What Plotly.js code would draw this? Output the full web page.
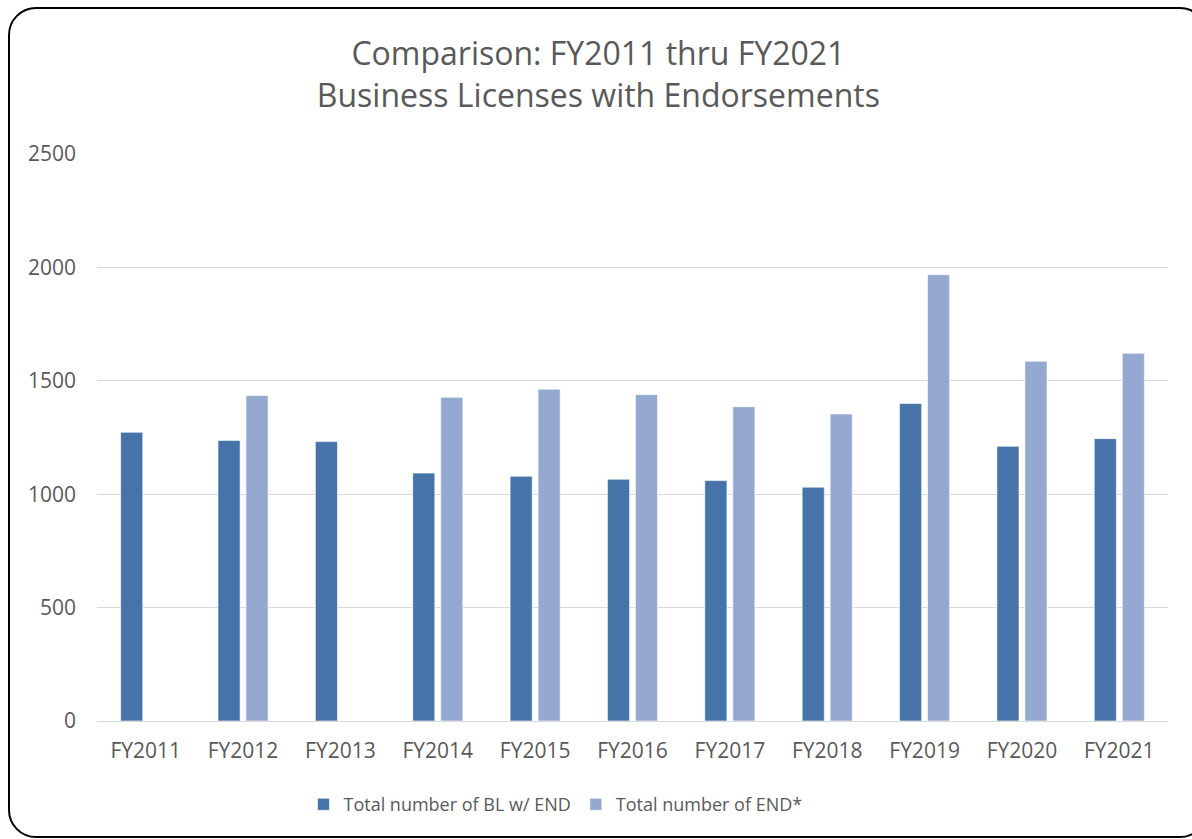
<!DOCTYPE html>
<html>
<head>
<meta charset="utf-8">
<script src="https://cdn.plot.ly/plotly-3.0.1.min.js"></script>
<style>
html,body{margin:0;padding:0;background:#fff;width:1192px;height:839px;overflow:hidden;}
#frame{position:absolute;left:8px;top:7px;width:1200px;height:831px;border:2px solid #000;border-radius:28px;box-sizing:border-box;}
#chart{position:absolute;left:0;top:0;width:1192px;height:839px;}
</style>
</head>
<body>
<div id="frame"></div>
<div id="chart"></div>
<script>
var categories = ["FY2011","FY2012","FY2013","FY2014","FY2015","FY2016","FY2017","FY2018","FY2019","FY2020","FY2021"];
var blWithEnd = [1273,1237,1232,1093,1079,1066,1060,1031,1400,1211,1245];
var totalEnd = [null,1435,null,1427,1463,1439,1386,1354,1968,1586,1621];
var yTicks = [0,500,1000,1500,2000,2500];

var fontFam = "'Open Sans', 'Noto Sans', 'Liberation Sans', sans-serif";
var grey = "#595959";

var data = [
  {type:"bar", name:"Total number of BL w/ END", x:categories, y:blWithEnd,
   marker:{color:"#4674a9", line:{color:"#ffffff", width:0.6}}},
  {type:"bar", name:"Total number of END*", x:categories, y:totalEnd,
   marker:{color:"#95a9d0", line:{color:"#ffffff", width:0.6}}}
];

var layout = {
  width:1192, height:839,
  paper_bgcolor:"rgba(0,0,0,0)", plot_bgcolor:"rgba(0,0,0,0)",
  margin:{l:97, r:24, t:154, b:118},
  barmode:"group", bargap:0.425, bargroupgap:0.21,
  font:{family:fontFam, color:grey},
  title:{text:"Comparison: FY2011 thru FY2021<br>Business Licenses with Endorsements",
         font:{size:32, color:grey, family:fontFam}, x:0.502, xref:"container", xanchor:"center",
         y:0.922, yref:"container", yanchor:"middle"},
  xaxis:{tickfont:{size:21, color:grey}, showgrid:false, zeroline:false,
         showline:true, linecolor:"#d9d9d9", linewidth:1, ticks:"", ticklabelstandoff:11},
  yaxis:{range:[0,2500], tickvals:yTicks, ticktext:yTicks.map(String),
         tickfont:{size:21, color:grey}, showgrid:true, gridcolor:"#d9d9d9", gridwidth:1,
         zeroline:false, showline:false, ticks:"", ticklabelstandoff:20},
  legend:{orientation:"h", x:0.466, xref:"container", xanchor:"center", y:0.041, yref:"container", yanchor:"middle",
          font:{size:18, color:grey}, itemwidth:30, traceorder:"normal"},
  showlegend:true
};

Plotly.newPlot("chart", data, layout, {displayModeBar:false, staticPlot:true});
</script>
</body>
</html>
